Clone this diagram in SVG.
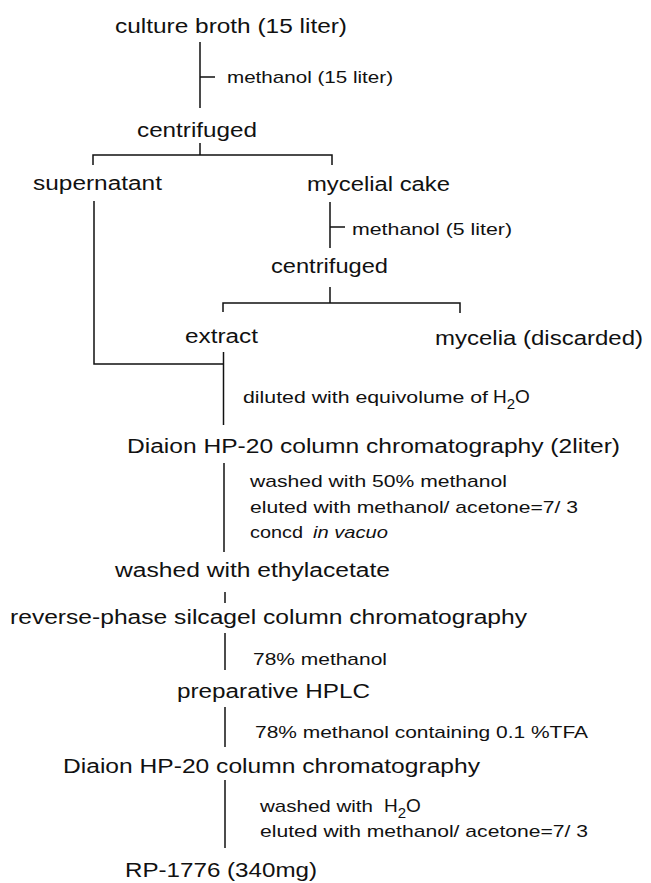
<svg xmlns="http://www.w3.org/2000/svg" width="651" height="883" viewBox="0 0 651 883">
<style>
.m{font-family:"Liberation Sans",Arial,Helvetica,sans-serif;font-size:20px;fill:#111}
.a{font-family:"Liberation Sans",Arial,Helvetica,sans-serif;font-size:17px;fill:#111}
.h{font-family:"Liberation Sans",Arial,Helvetica,sans-serif;font-size:19px;fill:#111}
.sub{font-size:15px}
.i{font-style:italic}
.c{fill:none;stroke:#111;stroke-width:1.5}
</style>
<rect width="651" height="883" fill="#fff"/>
<g id="connectors" class="c">
<path d="M200 42V108M200 77H215"/>
<path d="M200 143V155M93 165V155H332V165"/>
<path d="M94 201V364H223.5"/>
<path d="M330 202V248M330 227H345"/>
<path d="M330 287V303M223 312V303H460V313"/>
<path d="M223.5 352V425"/>
<path d="M224 463V552"/>
<path d="M225 592V603"/>
<path d="M225 633V670"/>
<path d="M225 707V747"/>
<path d="M225 780V848"/>
</g>
<g id="culture-broth"><text class="m" x="115" y="33" textLength="232" lengthAdjust="spacingAndGlyphs">culture broth (15 liter)</text></g>
<g id="label-methanol-15"><text class="a" x="227" y="83" textLength="166" lengthAdjust="spacingAndGlyphs">methanol (15 liter)</text></g>
<g id="centrifuged-1"><text class="m" x="137" y="137" textLength="120" lengthAdjust="spacingAndGlyphs">centrifuged</text></g>
<g id="supernatant"><text class="m" x="33" y="190" textLength="129" lengthAdjust="spacingAndGlyphs">supernatant</text></g>
<g id="mycelial-cake"><text class="m" x="307" y="191" textLength="143" lengthAdjust="spacingAndGlyphs">mycelial cake</text></g>
<g id="label-methanol-5"><text class="a" x="352" y="235" textLength="160" lengthAdjust="spacingAndGlyphs">methanol (5 liter)</text></g>
<g id="centrifuged-2"><text class="m" x="271" y="273" textLength="117" lengthAdjust="spacingAndGlyphs">centrifuged</text></g>
<g id="extract"><text class="m" x="185" y="343" textLength="73" lengthAdjust="spacingAndGlyphs">extract</text></g>
<g id="mycelia-discarded"><text class="m" x="435" y="345" textLength="208" lengthAdjust="spacingAndGlyphs">mycelia (discarded)</text></g>
<g id="label-diluted">
<text class="a" x="243" y="403" textLength="245" lengthAdjust="spacingAndGlyphs">diluted with equivolume of</text>
<text class="h" x="493" y="403">H<tspan class="sub" dy="6">2</tspan><tspan dy="-6">O</tspan></text>
</g>
<g id="diaion-1"><text class="m" x="127" y="453" textLength="493" lengthAdjust="spacingAndGlyphs">Diaion HP-20 column chromatography (2liter)</text></g>
<g id="label-diaion-1">
<text class="a" x="250" y="487" textLength="257" lengthAdjust="spacingAndGlyphs">washed with 50% methanol</text>
<text class="a" x="250" y="513" textLength="328" lengthAdjust="spacingAndGlyphs">eluted with methanol/ acetone=7/ 3</text>
<text class="a" x="250" y="538" textLength="53" lengthAdjust="spacingAndGlyphs">concd</text>
<text class="a i" x="313" y="538" textLength="75" lengthAdjust="spacingAndGlyphs">in vacuo</text>
</g>
<g id="washed-ethylacetate"><text class="m" x="115" y="577" textLength="275" lengthAdjust="spacingAndGlyphs">washed with ethylacetate</text></g>
<g id="reverse-phase"><text class="m" x="10" y="624" textLength="517" lengthAdjust="spacingAndGlyphs">reverse-phase silcagel column chromatography</text></g>
<g id="label-78-methanol"><text class="a" x="253" y="665" textLength="134" lengthAdjust="spacingAndGlyphs">78% methanol</text></g>
<g id="preparative-hplc"><text class="m" x="177" y="698" textLength="193" lengthAdjust="spacingAndGlyphs">preparative HPLC</text></g>
<g id="label-78-tfa"><text class="a" x="255" y="738" textLength="333" lengthAdjust="spacingAndGlyphs">78% methanol containing 0.1 %TFA</text></g>
<g id="diaion-2"><text class="m" x="63" y="773" textLength="417" lengthAdjust="spacingAndGlyphs">Diaion HP-20 column chromatography</text></g>
<g id="label-diaion-2">
<text class="a" x="260" y="812" textLength="113" lengthAdjust="spacingAndGlyphs">washed with</text>
<text class="h" x="384" y="812">H<tspan class="sub" dy="6">2</tspan><tspan dy="-6">O</tspan></text>
<text class="a" x="260" y="837" textLength="328" lengthAdjust="spacingAndGlyphs">eluted with methanol/ acetone=7/ 3</text>
</g>
<g id="rp-1776"><text class="m" x="125" y="877" textLength="192" lengthAdjust="spacingAndGlyphs">RP-1776 (340mg)</text></g>
</svg>
